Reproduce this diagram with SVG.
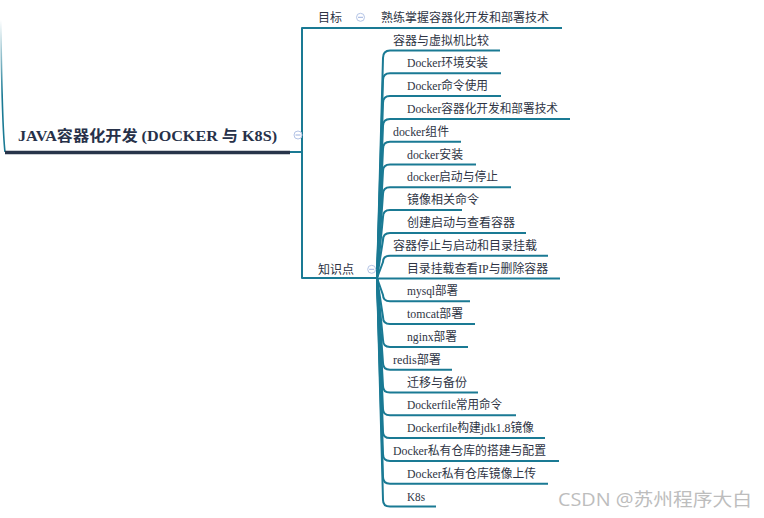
<svg xmlns="http://www.w3.org/2000/svg" width="764" height="518" viewBox="0 0 764 518">
<defs>
<linearGradient id="fade" gradientUnits="userSpaceOnUse" x1="0" y1="20" x2="0" y2="95">
<stop offset="0" stop-color="#1a7a94" stop-opacity="0"/>
<stop offset="1" stop-color="#1a7a94" stop-opacity="1"/>
</linearGradient>
</defs>
<style>
.ln{fill:none;stroke:#1a7a94;stroke-width:2;stroke-linejoin:round}
.t{font-family:"Liberation Serif","Noto Sans CJK SC",serif;font-size:12px;fill:#2e3444}
.root{font-family:"Liberation Serif","Noto Sans CJK SC",serif;font-size:15px;font-weight:bold;fill:#273149}
.ic circle{fill:#fff;stroke:#b4c4e6;stroke-width:1}
.ic line{stroke:#9db1de;stroke-width:1}
.wm{font-family:"Open Sans","Noto Sans CJK SC",sans-serif;font-size:18px;fill:#bdbdbd}
</style>
<rect width="764" height="518" fill="#ffffff"/>
<g id="connectors">
<path d="M0.8,20 C1.5,80 2.5,130 5,152" fill="none" stroke="url(#fade)" stroke-width="1.6"/>
<path class="ln" d="M290,152 H302"/>
<path class="ln" d="M562,28 H302 V278 H377"/>
<path class="ln" d="M377,278 L383,58 Q383,50.5 390,50.5 H500"/>
<path class="ln" d="M377,278 L383,80 Q383,73.3 390,73.3 H501"/>
<path class="ln" d="M377,278 L383,103 Q383,96.1 390,96.1 H501"/>
<path class="ln" d="M377,278 L383,126 Q383,118.9 390,118.9 H570"/>
<path class="ln" d="M377,278 L383,149 Q383,141.7 390,141.7 H461"/>
<path class="ln" d="M377,278 L383,171 Q383,164.5 390,164.5 H476"/>
<path class="ln" d="M377,278 L383,194 Q383,187.3 390,187.3 H511"/>
<path class="ln" d="M377,278 L383,217 Q383,210.1 390,210.1 H462"/>
<path class="ln" d="M377,278 L383,240 Q383,232.9 390,232.9 H526"/>
<path class="ln" d="M377,278 L383,262 Q383,255.7 390,255.7 H548"/>
<path class="ln" d="M377,278.5 H560"/>
<path class="ln" d="M377,278 L383,295 Q383,301.3 390,301.3 H470"/>
<path class="ln" d="M377,278 L383,317 Q383,324.1 390,324.1 H475"/>
<path class="ln" d="M377,278 L383,340 Q383,346.9 390,346.9 H468"/>
<path class="ln" d="M377,278 L383,363 Q383,369.7 390,369.7 H452"/>
<path class="ln" d="M377,278 L383,386 Q383,392.5 390,392.5 H478"/>
<path class="ln" d="M377,278 L383,409 Q383,415.3 390,415.3 H516"/>
<path class="ln" d="M377,278 L383,432 Q383,438.1 390,438.1 H545"/>
<path class="ln" d="M377,278 L383,454 Q383,460.9 390,460.9 H559"/>
<path class="ln" d="M377,278 L383,477 Q383,483.7 390,483.7 H548"/>
<path class="ln" d="M377,278 L383,500 Q383,506.5 390,506.5 H436"/>
</g>
<g id="root">
<line x1="5" y1="152.5" x2="290" y2="152.5" stroke="#28344a" stroke-width="3.5"/>
<text class="root" x="18" y="141" textLength="259" lengthAdjust="spacingAndGlyphs">JAVA容器化开发 (DOCKER 与 K8S)</text>
<g class="ic"><circle cx="298" cy="135" r="4"/><line x1="295.5" y1="135" x2="300.5" y2="135"/></g>
</g>
<g id="goal">
<text class="t" x="318" y="21.5">目标</text>
<g class="ic"><circle cx="360.5" cy="17.3" r="4"/><line x1="358" y1="17.3" x2="363" y2="17.3"/></g>
</g>
<g id="goal-1"><text class="t" x="381" y="21.5">熟练掌握容器化开发和部署技术</text></g>
<g id="points">
<text class="t" x="318" y="273.5">知识点</text>
<g class="ic"><circle cx="371.7" cy="269.3" r="4"/><line x1="369.2" y1="269.3" x2="374.2" y2="269.3"/></g>
</g>
<g id="p0"><text class="t" x="393" y="44.5">容器与虚拟机比较</text></g>
<g id="p1"><text class="t" x="407" y="67" textLength="81" lengthAdjust="spacingAndGlyphs">Docker环境安装</text></g>
<g id="p2"><text class="t" x="407" y="90" textLength="81" lengthAdjust="spacingAndGlyphs">Docker命令使用</text></g>
<g id="p3"><text class="t" x="407" y="113" textLength="151" lengthAdjust="spacingAndGlyphs">Docker容器化开发和部署技术</text></g>
<g id="p4"><text class="t" x="393" y="135.5" textLength="56" lengthAdjust="spacingAndGlyphs">docker组件</text></g>
<g id="p5"><text class="t" x="407" y="158.5" textLength="56" lengthAdjust="spacingAndGlyphs">docker安装</text></g>
<g id="p6"><text class="t" x="407" y="181" textLength="91" lengthAdjust="spacingAndGlyphs">docker启动与停止</text></g>
<g id="p7"><text class="t" x="407" y="204">镜像相关命令</text></g>
<g id="p8"><text class="t" x="407" y="227">创建启动与查看容器</text></g>
<g id="p9"><text class="t" x="393" y="249.5">容器停止与启动和目录挂载</text></g>
<g id="p10"><text class="t" x="407" y="272.5" textLength="141" lengthAdjust="spacingAndGlyphs">目录挂载查看IP与删除容器</text></g>
<g id="p11"><text class="t" x="407" y="295" textLength="51" lengthAdjust="spacingAndGlyphs">mysql部署</text></g>
<g id="p12"><text class="t" x="407" y="318" textLength="56" lengthAdjust="spacingAndGlyphs">tomcat部署</text></g>
<g id="p13"><text class="t" x="407" y="341" textLength="50" lengthAdjust="spacingAndGlyphs">nginx部署</text></g>
<g id="p14"><text class="t" x="393" y="363.5" textLength="48" lengthAdjust="spacingAndGlyphs">redis部署</text></g>
<g id="p15"><text class="t" x="407" y="386.5">迁移与备份</text></g>
<g id="p16"><text class="t" x="407" y="409" textLength="95" lengthAdjust="spacingAndGlyphs">Dockerfile常用命令</text></g>
<g id="p17"><text class="t" x="407" y="432" textLength="127" lengthAdjust="spacingAndGlyphs">Dockerfile构建jdk1.8镜像</text></g>
<g id="p18"><text class="t" x="393" y="455" textLength="153" lengthAdjust="spacingAndGlyphs">Docker私有仓库的搭建与配置</text></g>
<g id="p19"><text class="t" x="407" y="477.5" textLength="129" lengthAdjust="spacingAndGlyphs">Docker私有仓库镜像上传</text></g>
<g id="p20"><text class="t" x="407" y="500.5" textLength="18" lengthAdjust="spacingAndGlyphs">K8s</text></g>
<text class="wm" x="558" y="506" textLength="194" lengthAdjust="spacingAndGlyphs">CSDN @苏州程序大白</text>
</svg>
